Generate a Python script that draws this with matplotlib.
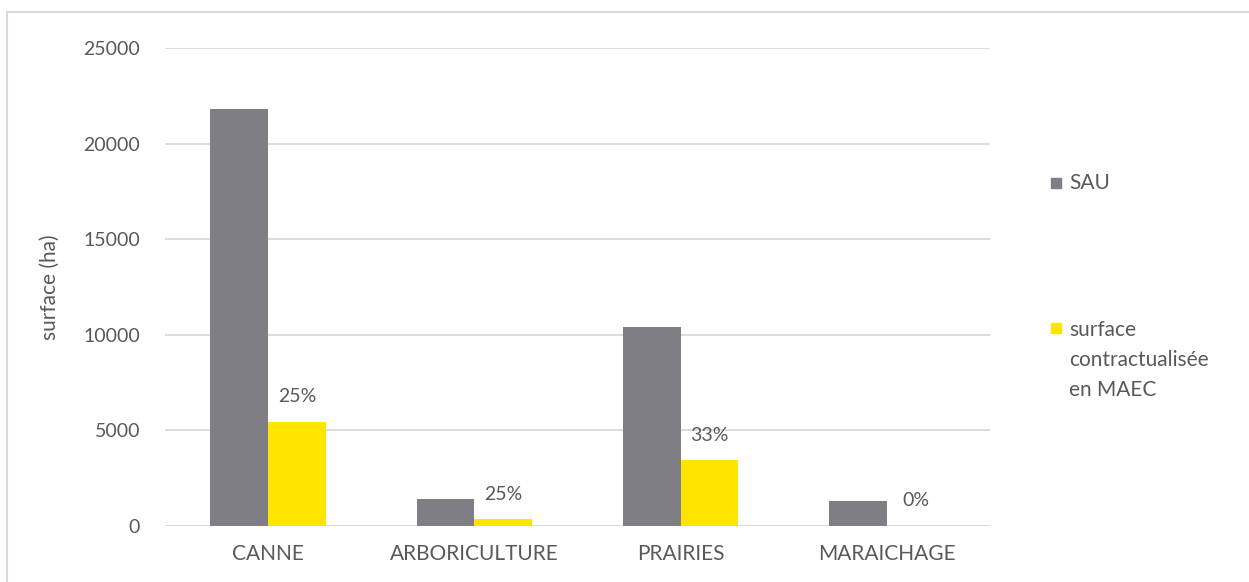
import matplotlib.pyplot as plt
import numpy as np
from matplotlib.lines import Line2D
from matplotlib.patches import Rectangle

# surfaces agricoles (ha) par filiere
categories = ["CANNE", "ARBORICULTURE", "PRAIRIES", "MARAICHAGE"]
sau = [21800, 1400, 10400, 1300]
maec = [5450, 350, 3430, 0]
pct_labels = ["25%", "25%", "33%", "0%"]

grey = "#7f7e84"
yellow = "#ffe400"
txt = "#595959"
grid_col = "#d9d9d9"

plt.rcParams["font.family"] = ["Lato", "DejaVu Sans"]
plt.rcParams["font.size"] = 14

fig = plt.figure(figsize=(12.49, 5.82), dpi=100)
ax = fig.add_axes([165 / 1249, 1 - 526 / 582, 825 / 1249, 478 / 582])

x = np.arange(len(categories))
w = 0.28
ax.bar(x - w / 2, sau, w, color=grey, zorder=3, label="SAU")
ax.bar(x + w / 2, maec, w, color=yellow, zorder=3,
       label="surface\ncontractualisée\nen MAEC")

for xi, v, lab in zip(x, maec, pct_labels):
    ax.annotate(lab, (xi + w / 2, v), xytext=(0, 18), textcoords="offset points",
                ha="center", va="center", color=txt, fontsize=14)

ax.set_xlim(-0.5, 3.5)
ax.set_ylim(0, 25000)
ax.set_yticks(range(0, 25001, 5000))
ax.set_xticks(x)
ax.set_xticklabels(categories, fontsize=15)
ax.tick_params(axis="both", length=0, colors=txt)
ax.tick_params(axis="y", pad=18, labelsize=14)
ax.tick_params(axis="x", pad=13)
ax.yaxis.grid(True, color=grid_col, linewidth=1.3, zorder=0)
for s in ax.spines.values():
    s.set_visible(False)
ax.axhline(0, color=grid_col, linewidth=1.3, zorder=2)

ax.set_ylabel("surface (ha)", color=txt, fontsize=15)
ax.yaxis.set_label_coords(-0.127, 0.5)

# legende a droite
fig.patches.append(Rectangle((1051 / 1249, 1 - 188 / 582), 10 / 1249, 10 / 582,
                             transform=fig.transFigure, color=grey, figure=fig))
fig.text(1069 / 1249, 1 - 183 / 582, "SAU", ha="left", va="center",
         color=txt, fontsize=15)
fig.patches.append(Rectangle((1051 / 1249, 1 - 333 / 582), 10 / 1249, 10 / 582,
                             transform=fig.transFigure, color=yellow, figure=fig))
fig.text(1069 / 1249, 1 - 320 / 582, "surface\ncontractualisée\nen MAEC", ha="left", va="top",
         color=txt, fontsize=15, linespacing=1.62)

# cadre du graphique
fig.add_artist(Line2D([7 / 1249, 1], [1 - 11.5 / 582] * 2, color=grid_col, linewidth=1.5))
fig.add_artist(Line2D([7 / 1249] * 2, [0, 1 - 11.5 / 582], color=grid_col, linewidth=1.5))

plt.savefig("out.png", dpi=100)
